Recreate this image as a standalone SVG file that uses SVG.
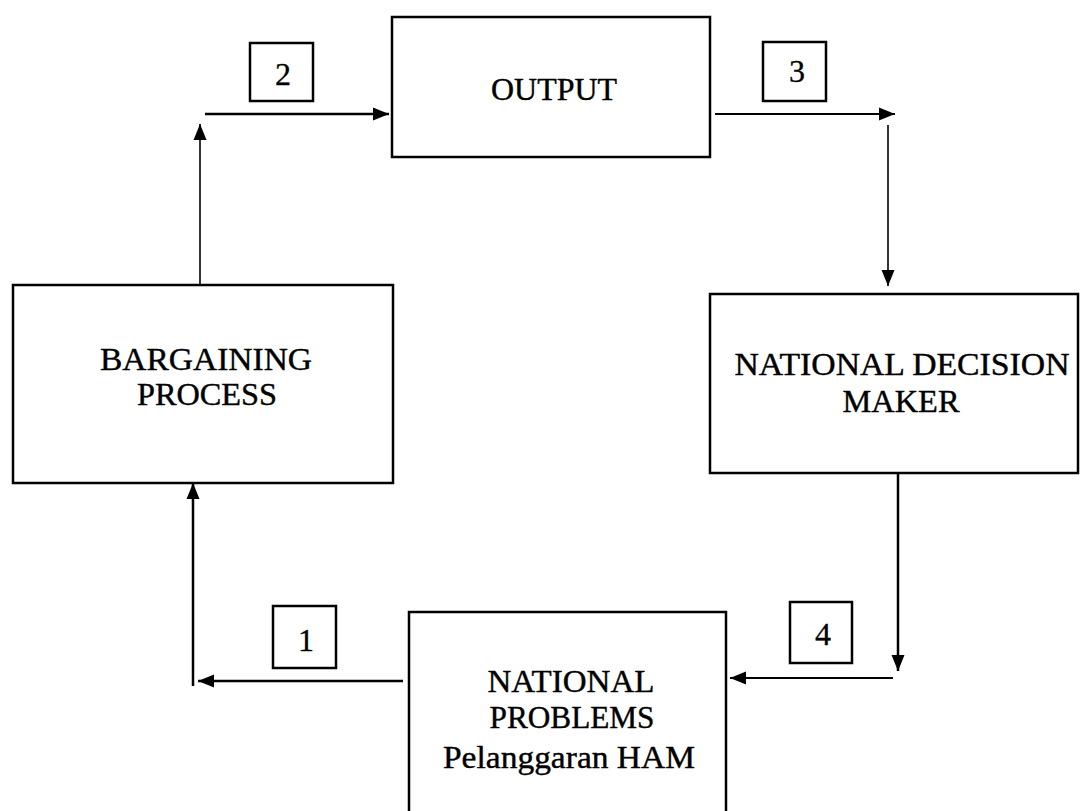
<svg xmlns="http://www.w3.org/2000/svg" width="1080" height="811" viewBox="0 0 1080 811">
<defs>
<marker id="ah" markerUnits="userSpaceOnUse" markerWidth="18" markerHeight="14" refX="16" refY="7" orient="auto">
<path d="M0,0.5 L16,7 L0,13.5 Z" fill="#000"/>
</marker>
<style>
.box{fill:#fff;stroke:#000;stroke-width:2.5}
.nb{fill:#fff;stroke:#000;stroke-width:2.5}
.conn{fill:none;stroke:#000;stroke-width:2.2}
.t{font-family:"Liberation Serif","Times New Roman",serif;font-size:31px;text-anchor:middle;fill:#000;stroke:#000;stroke-width:0.4}
.n{font-family:"Liberation Serif","Times New Roman",serif;font-size:32px;text-anchor:middle;fill:#000;stroke:#000;stroke-width:0.3}
</style>
</defs>
<rect width="1080" height="811" fill="#fff"/>
<g id="connectors">
<line class="conn" x1="200" y1="284" x2="200" y2="124" marker-end="url(#ah)" style="stroke-width:1.6"/>
<line class="conn" x1="205" y1="114" x2="389" y2="114" marker-end="url(#ah)" style="stroke-width:2.5"/>
<line class="conn" x1="715" y1="114" x2="895" y2="114" marker-end="url(#ah)"/>
<line class="conn" x1="888" y1="125" x2="888" y2="286" marker-end="url(#ah)" style="stroke-width:1.6"/>
<line class="conn" x1="898" y1="473" x2="898" y2="671" marker-end="url(#ah)" style="stroke-width:2.5"/>
<line class="conn" x1="893" y1="678" x2="730" y2="678" marker-end="url(#ah)"/>
<line class="conn" x1="403" y1="681" x2="198" y2="681" marker-end="url(#ah)" style="stroke-width:2.5"/>
<line class="conn" x1="193" y1="686" x2="193" y2="483" marker-end="url(#ah)" style="stroke-width:2.5"/>
</g>
<g id="label1"><rect class="nb" x="273" y="606" width="63" height="62"/><text class="n" x="306" y="651">1</text></g>
<g id="label2"><rect class="nb" x="250" y="43" width="63" height="58"/><text class="n" x="283" y="85">2</text></g>
<g id="label3"><rect class="nb" x="763" y="42" width="63" height="59"/><text class="n" x="797" y="82">3</text></g>
<g id="label4"><rect class="nb" x="790" y="602" width="62" height="61"/><text class="n" x="823" y="645">4</text></g>
<g id="output"><rect class="box" x="392" y="17" width="318" height="140"/><text class="t" x="554" y="100" textLength="126" lengthAdjust="spacingAndGlyphs">OUTPUT</text></g>
<g id="bargaining"><rect class="box" x="13" y="285" width="380" height="198"/><text class="t" x="206" y="370" textLength="212" lengthAdjust="spacingAndGlyphs">BARGAINING</text><text class="t" x="207" y="405" textLength="140" lengthAdjust="spacingAndGlyphs">PROCESS</text></g>
<g id="decision"><rect class="box" x="710" y="294" width="368" height="179"/><text class="t" x="902" y="375" textLength="335" lengthAdjust="spacingAndGlyphs">NATIONAL DECISION</text><text class="t" x="901" y="412" textLength="117" lengthAdjust="spacingAndGlyphs">MAKER</text></g>
<g id="problems"><rect class="box" x="409" y="612" width="317" height="210"/><text class="t" x="571" y="692" textLength="167" lengthAdjust="spacingAndGlyphs">NATIONAL</text><text class="t" x="572" y="728" textLength="165" lengthAdjust="spacingAndGlyphs">PROBLEMS</text><text class="t" x="569" y="768" textLength="252" lengthAdjust="spacingAndGlyphs">Pelanggaran HAM</text></g>
</svg>
